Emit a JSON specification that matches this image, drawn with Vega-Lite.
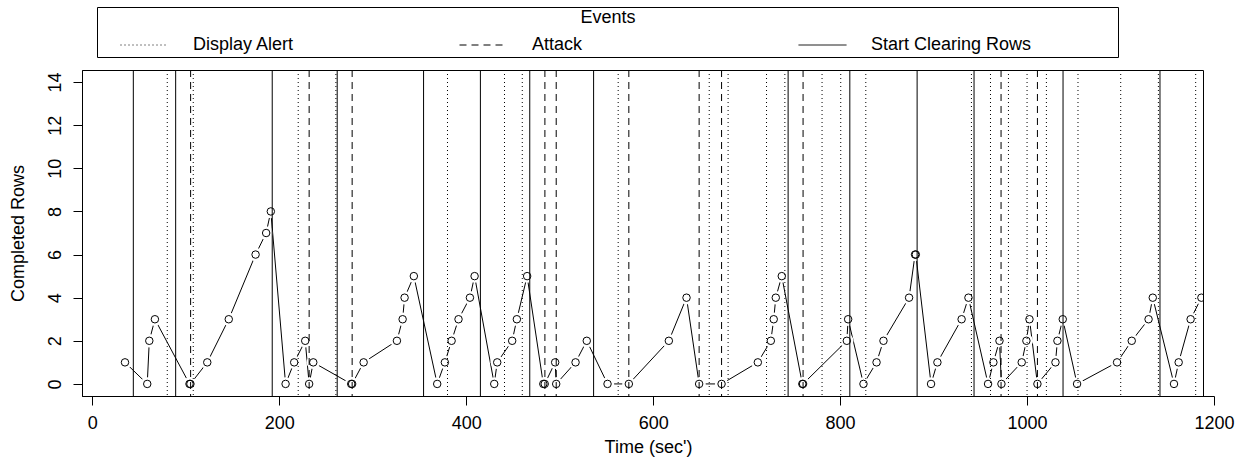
{
  "$schema": "https://vega.github.io/schema/vega-lite/v6.json",
  "width": 1121,
  "height": 326,
  "autosize": {"type": "none"},
  "padding": {"left": 82, "top": 70, "right": 45, "bottom": 79},
  "background": "white",
  "config": {
    "font": "Liberation Sans",
    "view": {"stroke": "black", "strokeWidth": 1},
    "axis": {
      "grid": false,
      "domainColor": "black",
      "tickColor": "black",
      "tickSize": 9,
      "labelColor": "black",
      "labelFont": "Liberation Sans",
      "labelFontSize": 18,
      "titleFont": "Liberation Sans",
      "titleFontSize": 18,
      "titleFontWeight": "normal",
      "titleColor": "black",
      "labelFlush": false,
      "labelOverlap": false
    },
    "legend": {
      "orient": "none",
      "legendX": 15,
      "legendY": -63,
      "direction": "horizontal",
      "columns": 3,
      "gridAlign": "all",
      "columnPadding": 0,
      "padding": 2,
      "strokeColor": "black",
      "titleAnchor": "middle",
      "titleFont": "Liberation Sans",
      "titleFontSize": 18,
      "titleFontWeight": "normal",
      "titleColor": "black",
      "titlePadding": 8,
      "labelFont": "Liberation Sans",
      "labelFontSize": 18,
      "labelColor": "black",
      "labelLimit": 0,
      "labelOffset": 24,
      "symbolType": "stroke",
      "symbolSize": 2304,
      "symbolOffset": 21,
      "symbolStrokeColor": "black",
      "symbolStrokeWidth": 1,
      "clipHeight": 20
    }
  },
  "datasets": {
    "pts": [
      {"t": 35, "rows": 1}, {"t": 58.8, "rows": 0}, {"t": 61, "rows": 2}, {"t": 67, "rows": 3},
      {"t": 104, "rows": 0}, {"t": 105, "rows": 0}, {"t": 123, "rows": 1}, {"t": 146, "rows": 3},
      {"t": 174.7, "rows": 6}, {"t": 186, "rows": 7}, {"t": 191, "rows": 8}, {"t": 206.8, "rows": 0},
      {"t": 216, "rows": 1}, {"t": 227.8, "rows": 2}, {"t": 232, "rows": 0}, {"t": 236.4, "rows": 1},
      {"t": 277, "rows": 0}, {"t": 278, "rows": 0}, {"t": 290.3, "rows": 1}, {"t": 325.9, "rows": 2},
      {"t": 332, "rows": 3}, {"t": 334.1, "rows": 4}, {"t": 344, "rows": 5}, {"t": 369, "rows": 0},
      {"t": 377.2, "rows": 1}, {"t": 384.4, "rows": 2}, {"t": 391.8, "rows": 3}, {"t": 404, "rows": 4},
      {"t": 409, "rows": 5}, {"t": 430, "rows": 0}, {"t": 433.2, "rows": 1}, {"t": 449.2, "rows": 2},
      {"t": 454.2, "rows": 3}, {"t": 465.2, "rows": 5}, {"t": 482.5, "rows": 0}, {"t": 484, "rows": 0},
      {"t": 495.2, "rows": 1}, {"t": 496.3, "rows": 0}, {"t": 517, "rows": 1}, {"t": 529, "rows": 2},
      {"t": 551.2, "rows": 0}, {"t": 574, "rows": 0}, {"t": 616.8, "rows": 2}, {"t": 635.7, "rows": 4},
      {"t": 649.2, "rows": 0}, {"t": 673.2, "rows": 0}, {"t": 712, "rows": 1}, {"t": 725.9, "rows": 2},
      {"t": 729, "rows": 3}, {"t": 731.2, "rows": 4}, {"t": 737.6, "rows": 5}, {"t": 759.6, "rows": 0},
      {"t": 760.4, "rows": 0}, {"t": 807.2, "rows": 2}, {"t": 808.6, "rows": 3}, {"t": 825, "rows": 0},
      {"t": 839, "rows": 1}, {"t": 846.4, "rows": 2}, {"t": 873.8, "rows": 4}, {"t": 880.2, "rows": 6},
      {"t": 881, "rows": 6}, {"t": 897.3, "rows": 0}, {"t": 904.1, "rows": 1}, {"t": 930, "rows": 3},
      {"t": 937.3, "rows": 4}, {"t": 958.3, "rows": 0}, {"t": 964, "rows": 1}, {"t": 970.5, "rows": 2},
      {"t": 972.6, "rows": 0}, {"t": 994.3, "rows": 1}, {"t": 999.3, "rows": 2}, {"t": 1002.6, "rows": 3},
      {"t": 1011.1, "rows": 0}, {"t": 1030.4, "rows": 1}, {"t": 1032.5, "rows": 2}, {"t": 1038.2, "rows": 3},
      {"t": 1053.5, "rows": 0}, {"t": 1096.3, "rows": 1}, {"t": 1112, "rows": 2}, {"t": 1130, "rows": 3},
      {"t": 1134.5, "rows": 4}, {"t": 1157.2, "rows": 0}, {"t": 1162.2, "rows": 1}, {"t": 1175, "rows": 3},
      {"t": 1186.5, "rows": 4}
    ],
    "ev": [
      {"t": 43.9, "event": "Start Clearing Rows"}, {"t": 89.2, "event": "Start Clearing Rows"},
      {"t": 192.5, "event": "Start Clearing Rows"}, {"t": 262, "event": "Start Clearing Rows"},
      {"t": 354.4, "event": "Start Clearing Rows"}, {"t": 415.2, "event": "Start Clearing Rows"},
      {"t": 468, "event": "Start Clearing Rows"}, {"t": 536.3, "event": "Start Clearing Rows"},
      {"t": 744.4, "event": "Start Clearing Rows"}, {"t": 810.4, "event": "Start Clearing Rows"},
      {"t": 882.4, "event": "Start Clearing Rows"}, {"t": 943.3, "event": "Start Clearing Rows"},
      {"t": 1038.5, "event": "Start Clearing Rows"}, {"t": 1142.2, "event": "Start Clearing Rows"},
      {"t": 105.2, "event": "Attack"}, {"t": 232, "event": "Attack"}, {"t": 278, "event": "Attack"},
      {"t": 484.2, "event": "Attack"}, {"t": 496.3, "event": "Attack"}, {"t": 574, "event": "Attack"},
      {"t": 649.2, "event": "Attack"}, {"t": 673.2, "event": "Attack"}, {"t": 760.4, "event": "Attack"},
      {"t": 972.2, "event": "Attack"}, {"t": 1011.1, "event": "Attack"},
      {"t": 80.2, "event": "Display Alert"}, {"t": 108, "event": "Display Alert"},
      {"t": 220.3, "event": "Display Alert"}, {"t": 260.6, "event": "Display Alert"},
      {"t": 380, "event": "Display Alert"}, {"t": 441, "event": "Display Alert"},
      {"t": 460, "event": "Display Alert"}, {"t": 562.6, "event": "Display Alert"},
      {"t": 660, "event": "Display Alert"}, {"t": 680.2, "event": "Display Alert"},
      {"t": 721.3, "event": "Display Alert"}, {"t": 740.9, "event": "Display Alert"},
      {"t": 780.7, "event": "Display Alert"}, {"t": 800.7, "event": "Display Alert"},
      {"t": 827.5, "event": "Display Alert"}, {"t": 940.5, "event": "Display Alert"},
      {"t": 960.9, "event": "Display Alert"}, {"t": 980.1, "event": "Display Alert"},
      {"t": 1000, "event": "Display Alert"}, {"t": 1020.7, "event": "Display Alert"},
      {"t": 1054.5, "event": "Display Alert"}, {"t": 1100.2, "event": "Display Alert"},
      {"t": 1140.5, "event": "Display Alert"}, {"t": 1180.4, "event": "Display Alert"}
    ]
  },
  "encoding": {
    "x": {
      "field": "t",
      "type": "quantitative",
      "scale": {"domain": [-11, 1200], "range": [0, 1132], "nice": false, "zero": false},
      "axis": {
        "title": "Time (sec')",
        "values": [0, 200, 400, 600, 800, 1000, 1200],
        "format": "d",
        "labelPadding": 9,
        "titlePadding": 6
      }
    }
  },
  "layer": [
    {
      "data": {"name": "pts"},
      "mark": {"type": "line", "color": "black", "strokeWidth": 1, "clip": true},
      "encoding": {
        "y": {
          "field": "rows",
          "type": "quantitative",
          "scale": {"domain": [-0.56, 14.56], "nice": false, "zero": false},
          "axis": {
            "title": "Completed Rows",
            "values": [0, 2, 4, 6, 8, 10, 12, 14],
            "labelAngle": 270,
            "labelAlign": "center",
            "labelBaseline": "alphabetic",
            "labelPadding": 13,
            "titlePadding": 19
          }
        }
      }
    },
    {
      "data": {"name": "pts"},
      "mark": {"type": "point", "shape": "circle", "filled": true, "color": "white", "size": 180, "opacity": 1, "clip": true},
      "encoding": {"y": {"field": "rows", "type": "quantitative"}}
    },
    {
      "data": {"name": "ev"},
      "mark": {"type": "rule", "color": "black", "strokeWidth": 1, "clip": true},
      "encoding": {
        "strokeDash": {
          "field": "event",
          "type": "nominal",
          "scale": {
            "domain": ["Display Alert", "Attack", "Start Clearing Rows"],
            "range": [[1, 3], [7, 5], [1, 0]]
          },
          "legend": {
            "title": "Events",
            "encode": {"entries": {"update": {"width": {"value": 339}}}}
          }
        }
      }
    },
    {
      "data": {"name": "pts"},
      "mark": {"type": "point", "shape": "circle", "filled": false, "color": "black", "size": 56, "strokeWidth": 1, "opacity": 1, "clip": true},
      "encoding": {"y": {"field": "rows", "type": "quantitative"}}
    }
  ]
}
